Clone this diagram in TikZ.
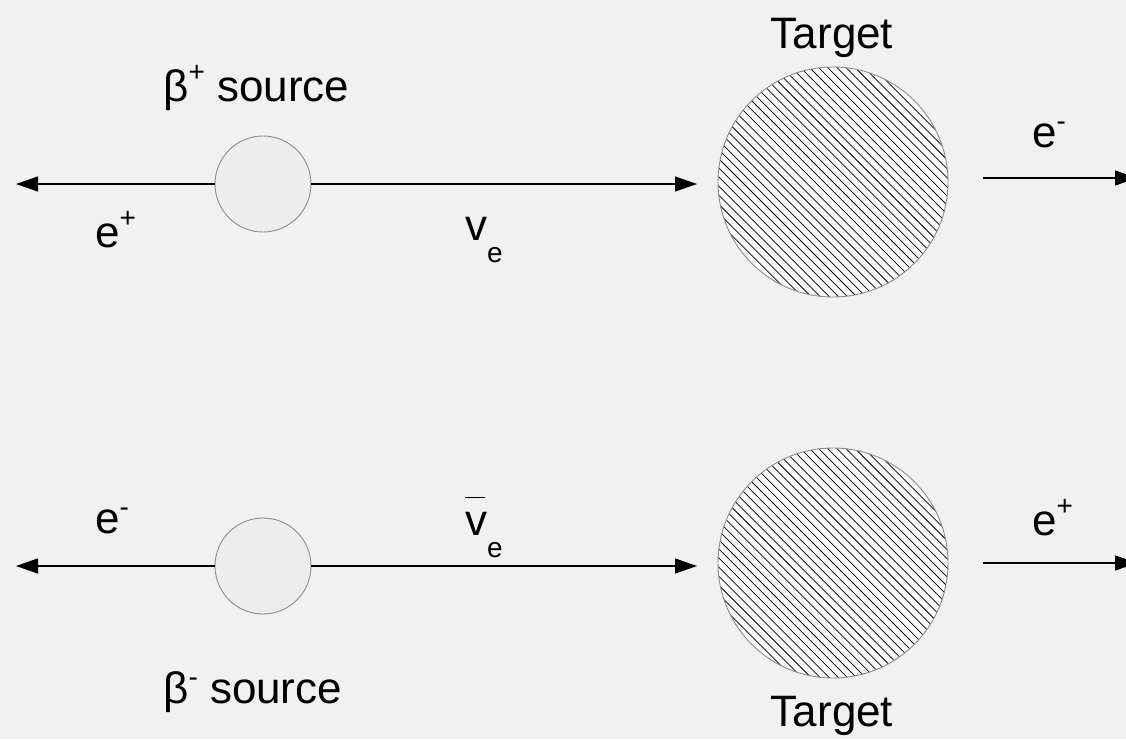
\documentclass[tikz,border=0pt]{standalone}
\usepackage{fontspec}
\setmainfont{Liberation Sans}
\usetikzlibrary{arrows.meta}
\definecolor{bgc}{HTML}{F1F1F1}
\definecolor{srcfill}{HTML}{EDEDED}
\definecolor{rimc}{HTML}{8C8C8C}
\newcommand{\bigtxt}{\fontsize{44}{50}\selectfont}
\newcommand{\smalltxt}{\fontsize{28}{32}\selectfont}
\newcommand{\supp}[1]{\raisebox{20pt}{\smalltxt #1}}
\newcommand{\supm}{\raisebox{17pt}{\smalltxt -}}
\newcommand{\subb}[1]{\raisebox{-22pt}{\smalltxt #1}}
\newcommand{\vbar}{\makebox[0pt][l]{\rule[37pt]{20pt}{1.3pt}}v}
\tikzset{
  source/.style={circle, draw=rimc, line width=0.9pt, fill=srcfill, minimum size=96pt, inner sep=0pt},
  target/.style={circle, draw=rimc, line width=0.9pt, fill=white!70!bgc, minimum size=230pt, inner sep=0pt,
    path picture={
      \foreach \k in {-30,...,30}{
        \draw[black, line width=0.75pt] ([xshift=\k*9.1pt]path picture bounding box.center) ++(-150pt,150pt) -- ++(300pt,-300pt);
      }
    }},
  lbl/.style={font=\bigtxt, inner sep=0pt, text=black},
  ray/.style={line width=1.1pt, -{Triangle[length=22pt,width=15pt]}}
}
\begin{document}
\begin{tikzpicture}[x=1pt,y=-1pt]
\fill[bgc] (0,0) rectangle (1126,739);
\useasboundingbox (0,0) rectangle (1126,739);

% top row
\node[source] (s1) at (263,184) {};
\node[target] (t1) at (833,182) {};
\coordinate (l1) at (16,184);
\coordinate (r1) at (697,184);
\coordinate (o1a) at (983,178);
\coordinate (o1b) at (1137,178);
\draw[ray] (s1.west) -- (l1);
\draw[ray] (s1.east) -- (r1);
\draw[ray] (o1a) -- (o1b);
\node[lbl, anchor=base] (tt1) at (832,48) {Target};
\node[lbl, anchor=base west] (sl1) at (163,101) {β\supp{+} source};
\node[lbl, anchor=base west] (e1) at (95,247) {e\supp{+}};
\node[lbl, anchor=base west] (nu1) at (465,240) {v\subb{e}};
\node[lbl, anchor=base west] (e2) at (1032,147) {e\supm};

% bottom row
\node[source] (s2) at (263,566) {};
\node[target] (t2) at (833,563) {};
\coordinate (l2) at (16,566);
\coordinate (r2) at (697,566);
\coordinate (o2a) at (983,563);
\coordinate (o2b) at (1137,563);
\draw[ray] (s2.west) -- (l2);
\draw[ray] (s2.east) -- (r2);
\draw[ray] (o2a) -- (o2b);
\node[lbl, anchor=base west] (e3) at (95,533) {e\supm};
\node[lbl, anchor=base west] (nu2) at (465,535) {\vbar\subb{e}};
\node[lbl, anchor=base west] (e4) at (1032,535) {e\supp{+}};
\node[lbl, anchor=base west] (sl2) at (163,703) {β\supm{} source};
\node[lbl, anchor=base] (tt2) at (832,726) {Target};
\end{tikzpicture}
\end{document}
